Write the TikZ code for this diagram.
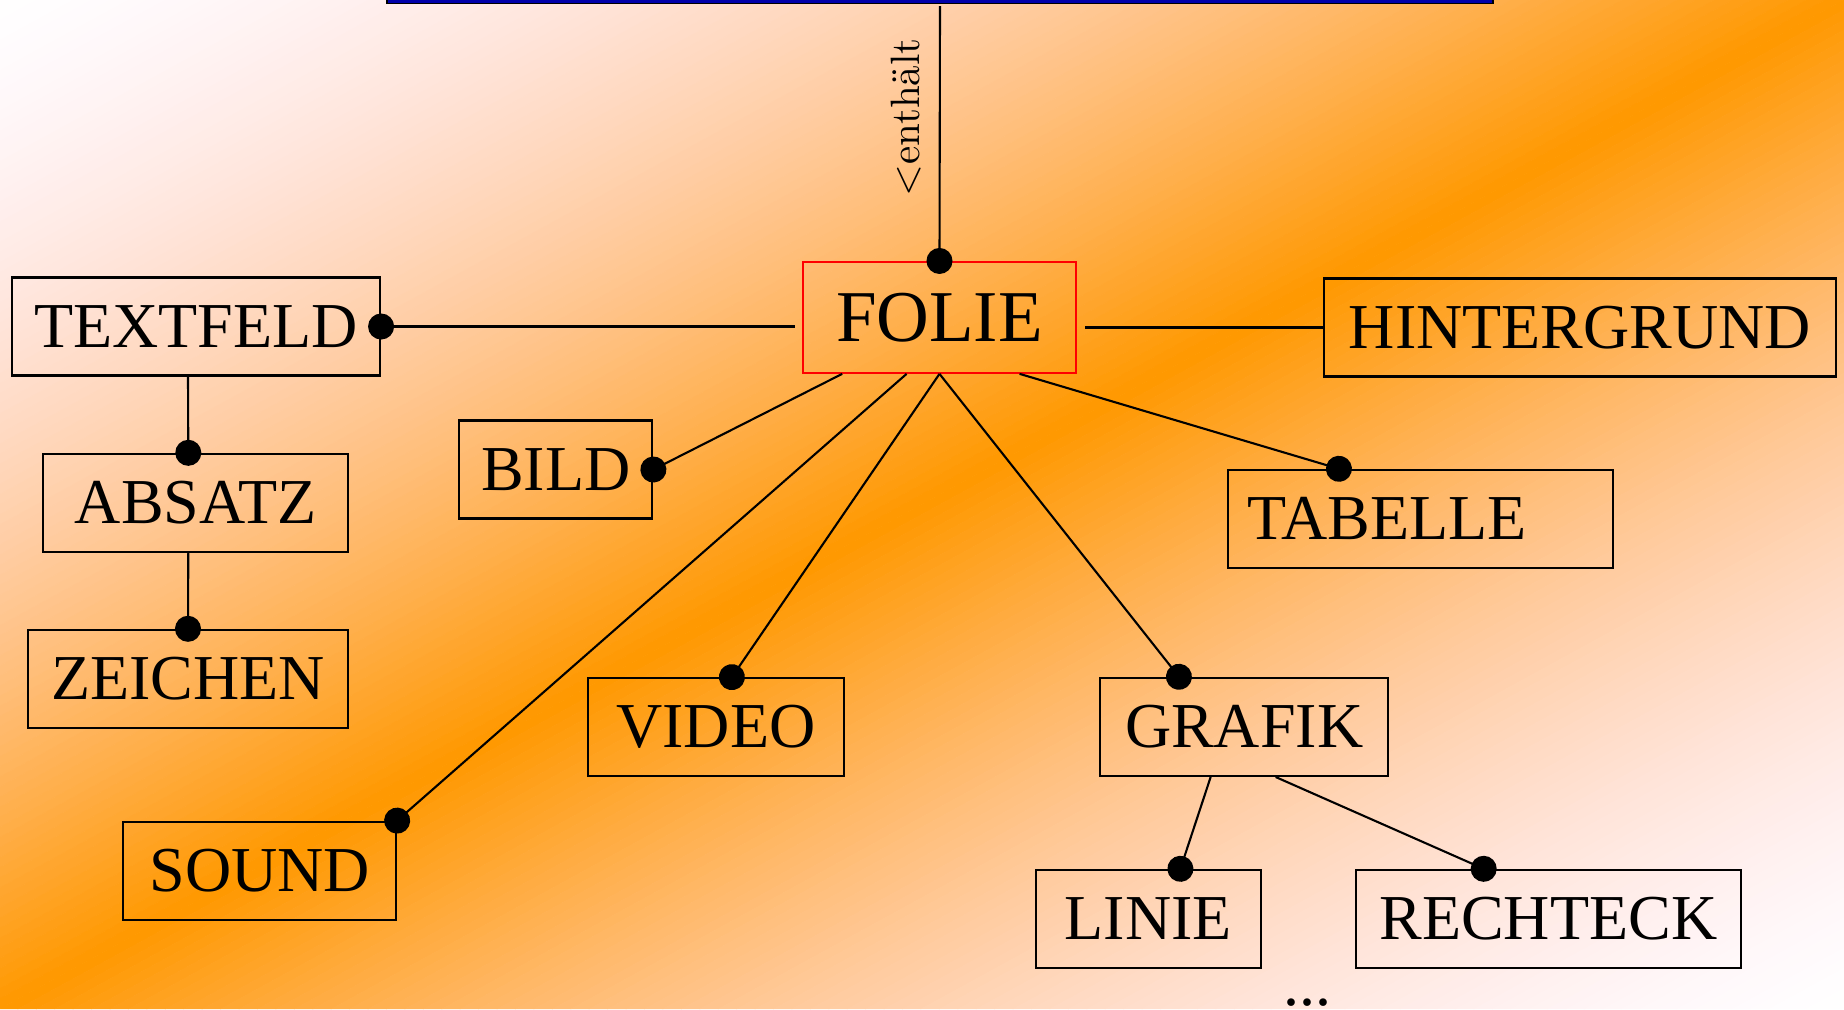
\documentclass[tikz,border=0pt]{standalone}
\usepackage{fontspec}
\newfontfamily\tnr{Liberation Serif}
\newfontfamily\lmten{lmroman10-regular.otf}
\usetikzlibrary{calc,arrows.meta}
\definecolor{barblue}{RGB}{0,0,170}
\begin{document}
\begin{tikzpicture}[x=0.5pt,y=-0.5pt,
  box/.style={draw=black,line width=1.1pt,inner sep=0pt,minimum height=49pt,font=\tnr\fontsize{32}{38}\selectfont},
  conn/.style={draw=black,line width=1.05pt},
  ballend/.style={-{Circle[length=13pt,width=13pt]},shorten >=-6.5pt},
]
\useasboundingbox (0,0) rectangle (1844,1009);
% background gradient (white - orange - white, orange along the rising diagonal)
\begin{scope}
\clip (0,0) rectangle (1844,1009);
\foreach \i in {0,...,199}{
  \pgfmathsetmacro{\ca}{-1+\i*0.01}
  \pgfmathsetmacro{\cb}{\ca+0.0105}
  \pgfmathsetmacro{\f}{1-abs(\ca+0.005)}
  \pgfmathtruncatemacro{\gg}{255-102*(\f^1.2)}
  \pgfmathtruncatemacro{\bb}{255-255*(\f^1.7)}
  \definecolor{stripc}{RGB}{255,\gg,\bb}
  \fill[stripc] ({(1+\ca)*1844},0) -- ({(1+\cb)*1844},0) -- ({\cb*1844},1009) -- ({\ca*1844},1009) -- cycle;
}
\end{scope}
% top bar (cut off)
\fill[barblue,draw=black,line width=0.6pt] (387,-10) rectangle (1493,3.5);

% nodes
\node[box,draw=red,minimum width=136.5pt,minimum height=55.35pt,font=\tnr\fontsize{36.5}{42}\selectfont] (folie) at (939.5,317.4) {FOLIE};
\node[box,minimum width=184pt] (textfeld) at (196,326.5) {TEXTFELD};
\node[box,minimum width=255.8pt] (hintergrund) at (1580,327.5) {HINTERGRUND};
\node[box,minimum width=152.5pt] (absatz) at (195.8,502.9) {ABSATZ};
\node[box,minimum width=160.3pt] (zeichen) at (188,678.9) {ZEICHEN};
\node[box,minimum width=96.5pt] (bild) at (555.8,469.5) {BILD};
\node[box,minimum width=136.35pt] (sound) at (259.7,870.7) {SOUND};
\node[box,minimum width=128.15pt] (video) at (715.9,727.2) {VIDEO};
\node[box,minimum width=144.15pt] (grafik) at (1244.2,726.9) {GRAFIK};
\node[box,minimum width=192.5pt,text width=172.5pt,inner xsep=10pt,align=left] (tabelle) at (1420.2,518.9) {TABELLE};
\node[box,minimum width=112.55pt] (linie) at (1148.2,918.9) {LINIE};
\node[box,minimum width=192.3pt] (rechteck) at (1548.3,918.9) {RECHTECK};
\node[font=\tnr\fontsize{32}{38}\selectfont,inner sep=0pt,anchor=base] (more) at (1307.7,1005.5) {...};
\node[rotate=90,font=\lmten\fontsize{20.5}{24}\selectfont,inner sep=0pt] (rel) at (906.5,117.5) {<enthält};

% connectors
\coordinate (topend) at (940,6);
\draw[conn,ballend] (topend) -- (folie.north);
\draw[conn,ballend] ($(folie.west |- textfeld.east)+(-7,0)$) -- (textfeld.east);
\draw[conn] ($(folie.east |- hintergrund.west)+(8,0)$) -- (hintergrund.west);
\draw[conn,ballend] ($(folie.south west)+(40.3,0)$) -- (bild.east);
\draw[conn,ballend] ($(folie.south west)+(104.7,0)$) -- (sound.north east);
\draw[conn,ballend] (folie.south) -- ($(video.north)+(16,0)$);
\draw[conn,ballend] (folie.south) -- ($(grafik.north west)+(80,0)$);
\draw[conn,ballend] ($(folie.south west)+(217.7,0)$) -- ($(tabelle.north west)+(112.3,0)$);
\draw[conn,ballend] ($(textfeld.south)+(-8,0)$) -- ($(absatz.north)+(-7.5,0)$);
\draw[conn,ballend] ($(absatz.south)+(-7.5,0)$) -- (zeichen.north);
\draw[conn,ballend] ($(grafik.south west)+(111.7,0)$) -- ($(linie.north)+(32.2,0)$);
\draw[conn,ballend] ($(grafik.south west)+(176.7,0)$) -- ($(rechteck.north west)+(128.8,0)$);
\end{tikzpicture}
\end{document}
